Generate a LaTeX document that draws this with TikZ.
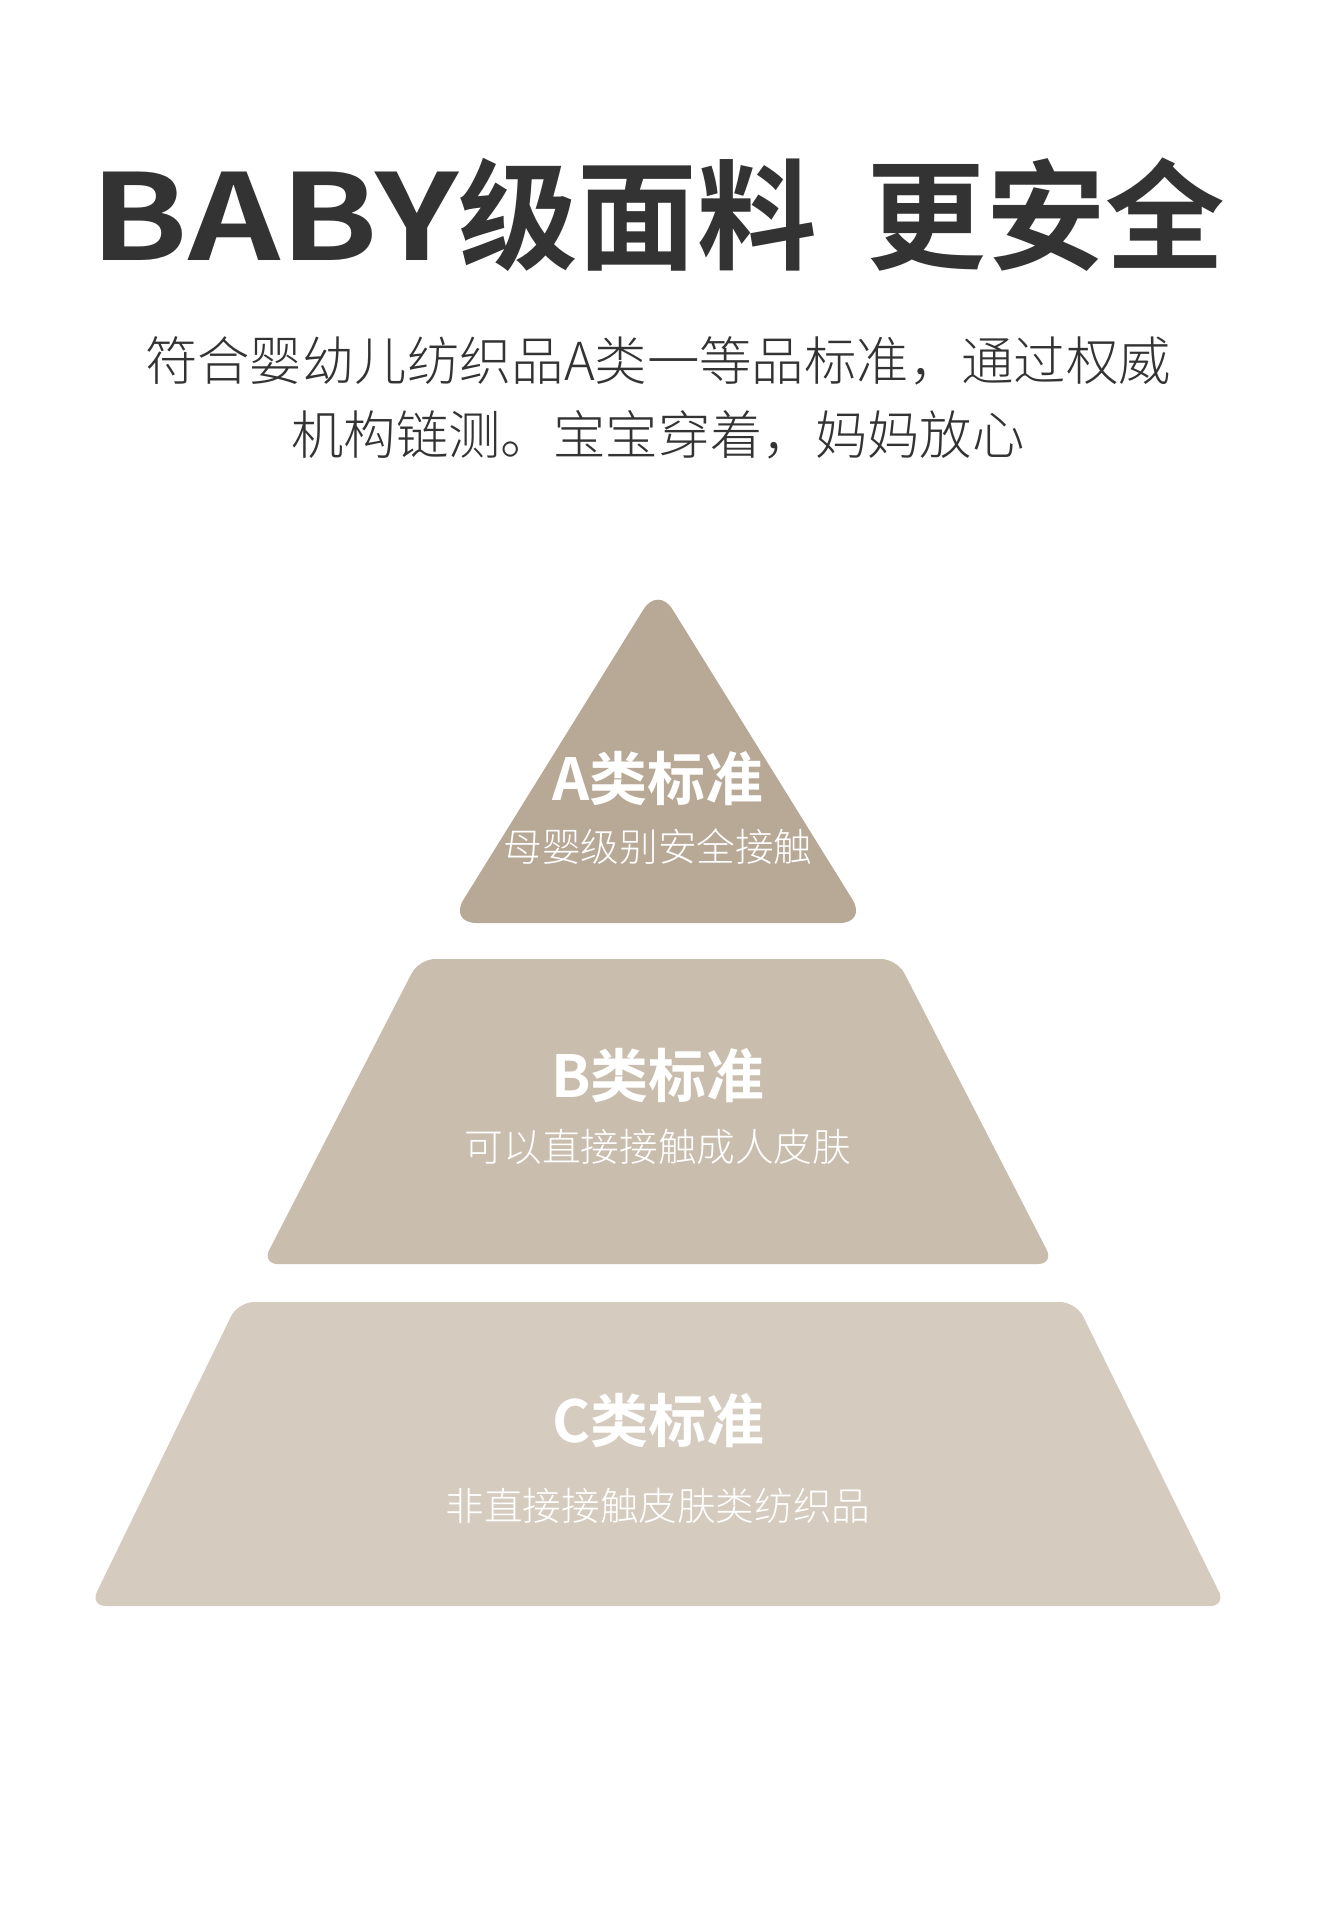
\documentclass[tikz,border=0pt]{standalone}
\usepackage{fontspec}
\setmainfont{Noto Sans CJK SC}
\newfontfamily\lightfont{Noto Sans CJK SC Light}
\newfontfamily\boldfont{Noto Sans CJK SC Bold}
\definecolor{inkgray}{HTML}{333333}
\definecolor{tanA}{HTML}{B8A896}
\definecolor{tanB}{HTML}{C9BDAD}
\definecolor{tanC}{HTML}{D5CBBF}

\begin{document}
\begin{tikzpicture}[
  x=0.02cm, y=-0.02cm,
  tier/.style={rounded corners=0.32cm},
  head/.style={text=white,font=\boldfont\fontsize{33}{36}\selectfont,inner sep=0pt},
  note/.style={text=white,font=\lightfont\fontsize{22}{26}\selectfont,inner sep=0pt},
  lead/.style={text=inkgray,font=\lightfont\fontsize{29.8}{34}\selectfont,inner sep=0pt}
]
\useasboundingbox[fill=white] (0,0) rectangle (1317,1920);
\node[text=inkgray,font=\boldfont\fontsize{68}{72}\selectfont,inner sep=0pt] (title) at (658,215) {\scalebox{1.2}[1]{BABY}级面料\hspace{0.42em}更安全};
\node[lead] (sub1) at (658,361) {符合婴幼儿纺织品A类一等品标准，通过权威};
\node[lead] (sub2) at (658,435) {机构链测。宝宝穿着，妈妈放心};

\fill[tanA,rounded corners=0.55cm] (658,586) -- (867,923) -- (449,923) -- cycle;
\fill[tanB,tier] (419,959) -- (897,959) -- (1054,1264) -- (262,1264) -- cycle;
\fill[tanC,tier] (238,1302) -- (1076,1302) -- (1226,1606) -- (90,1606) -- cycle;

\node[head] (Ahead) at (658,778) {A类标准};
\node[note] (Anote) at (658,847) {母婴级别安全接触};
\node[head] (Bhead) at (658,1075) {B类标准};
\node[note] (Bnote) at (658,1147) {可以直接接触成人皮肤};
\node[head] (Chead) at (658,1420) {C类标准};
\node[note] (Cnote) at (658,1506) {非直接接触皮肤类纺织品};
\end{tikzpicture}
\end{document}
